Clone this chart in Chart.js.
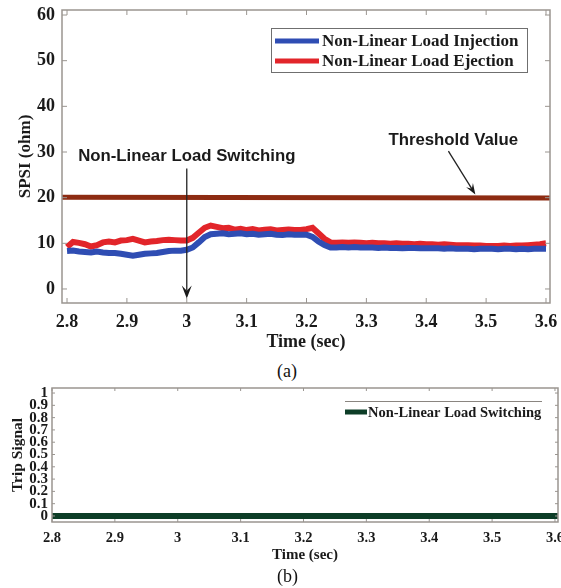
<!DOCTYPE html>
<html>
<head>
<meta charset="utf-8">
<script src="https://cdn.jsdelivr.net/npm/chart.js@4"></script>
<style>
  html, body { margin: 0; padding: 0; background: #fff; }
  body { width: 561px; height: 588px; position: relative; overflow: hidden; }
  #wrapA { position: absolute; left: 0; top: 0; width: 561px; height: 360px; }
  #wrapB { position: absolute; left: 0; top: 380px; width: 561px; height: 190px; }
  .cap { position: absolute; font-family: "Liberation Serif", serif; font-size: 18px; color: #111; }
</style>
</head>
<body>
<div id="wrapA"><canvas id="chartA" width="561" height="360"></canvas></div>
<div class="cap" style="left:277px; top:361px;">(a)</div>
<div id="wrapB"><canvas id="chartB" width="561" height="190"></canvas></div>
<div class="cap" style="left:277px; top:566px;">(b)</div>

<script>
// time axis of panel (a), every 10 ms
const time = [
  2.80, 2.81, 2.82, 2.83, 2.84, 2.85, 2.86, 2.87, 2.88, 2.89,
  2.90, 2.91, 2.92, 2.93, 2.94, 2.95, 2.96, 2.97, 2.98, 2.99,
  3.00, 3.01, 3.02, 3.03, 3.04, 3.05, 3.06, 3.07, 3.08, 3.09,
  3.10, 3.11, 3.12, 3.13, 3.14, 3.15, 3.16, 3.17, 3.18, 3.19,
  3.20, 3.21, 3.22, 3.23, 3.24, 3.25, 3.26, 3.27, 3.28, 3.29,
  3.30, 3.31, 3.32, 3.33, 3.34, 3.35, 3.36, 3.37, 3.38, 3.39,
  3.40, 3.41, 3.42, 3.43, 3.44, 3.45, 3.46, 3.47, 3.48, 3.49,
  3.50, 3.51, 3.52, 3.53, 3.54, 3.55, 3.56, 3.57, 3.58, 3.59,
  3.60
];

// SPSI (ohm) - non-linear load injection
const injection = [
  8.3, 8.4, 8.2, 8.1, 8.0, 8.2, 8.0, 7.9, 7.9, 7.7,
  7.5, 7.3, 7.5, 7.7, 7.8, 7.9, 8.1, 8.3, 8.4, 8.4,
  8.6, 9.1, 10.2, 11.4, 12.0, 12.1, 12.2, 12.0, 12.1, 12.2,
  12.0, 12.1, 11.9, 12.0, 12.1, 11.9, 11.8, 12.0, 11.9, 11.9,
  11.9, 11.4, 10.4, 9.6, 9.1, 9.1, 9.2, 9.1, 9.2, 9.1,
  9.1, 9.1, 9.0, 9.1, 9.0, 9.0, 8.9, 9.0, 9.0, 8.9,
  8.9, 8.9, 8.9, 8.8, 8.9, 8.8, 8.8, 8.8, 8.7, 8.8,
  8.8, 8.8, 8.7, 8.8, 8.8, 8.7, 8.8, 8.7, 8.8, 8.8,
  8.8
];

// SPSI (ohm) - non-linear load ejection
const ejection = [
  9.2, 10.3, 10.1, 9.8, 9.3, 9.6, 10.2, 10.4, 10.2, 10.6,
  10.7, 11.0, 10.6, 10.2, 10.4, 10.5, 10.7, 10.8, 10.7, 10.6,
  10.6, 11.2, 12.3, 13.4, 13.9, 13.6, 13.3, 13.4, 13.0, 13.2,
  12.9, 13.1, 12.8, 13.0, 13.1, 12.8, 12.9, 13.0, 12.9, 12.9,
  13.1, 13.4, 12.2, 11.0, 10.2, 10.1, 10.2, 10.1, 10.2, 10.1,
  10.0, 10.1, 10.0, 10.0, 9.9, 10.0, 9.9, 9.9, 9.8, 9.9,
  9.8, 9.8, 9.7, 9.8, 9.7, 9.6, 9.6, 9.6, 9.5, 9.5,
  9.4, 9.4, 9.4, 9.5, 9.4, 9.5, 9.5, 9.6, 9.7, 9.8,
  10.0
];

const thresholdTime = [2.79, 3.61];
const thresholdValue = [20.1, 19.9];

// panel (b) trip signal
const tripTime = [2.8, 3.61];
const tripSignal = [0, 0];

const xTicks = [2.8, 2.9, 3, 3.1, 3.2, 3.3, 3.4, 3.5, 3.6];
const yTicksA = [0, 10, 20, 30, 40, 50, 60];
const yTicksB = [0, 0.1, 0.2, 0.3, 0.4, 0.5, 0.6, 0.7, 0.8, 0.9, 1];

const SERIF = '"Liberation Serif", "Times New Roman", serif';
const SANS = '"Liberation Sans", Arial, sans-serif';
const TXT = '#1a1a1a';

function pts(xs, ys) {
  return xs.map((x, i) => ({ x: x, y: ys[i] }));
}

function setTicks(list) {
  return scale => { scale.ticks = list.map(v => ({ value: v })); };
}

// fixed axis size, and no extra room for labels that stick out
function fixSize(key, size) {
  return scale => {
    scale[key] = size;
    scale.paddingLeft = 0; scale.paddingRight = 0;
    scale.paddingTop = 0; scale.paddingBottom = 0;
  };
}

// box round the plot with inward tick marks (matlab style)
function framePlugin(len) {
  return {
    id: 'frame',
    afterDatasetsDraw(chart) {
      const { ctx, chartArea: a, scales } = chart;
      ctx.save();
      ctx.strokeStyle = '#9a9590';
      ctx.lineWidth = 1.5;
      ctx.strokeRect(a.left, a.top, a.right - a.left, a.bottom - a.top);
      ctx.lineWidth = 1;
      ctx.beginPath();
      scales.x.ticks.forEach(t => {
        const px = scales.x.getPixelForValue(t.value);
        ctx.moveTo(px, a.bottom); ctx.lineTo(px, a.bottom - len);
        ctx.moveTo(px, a.top); ctx.lineTo(px, a.top + len);
      });
      scales.y.ticks.forEach(t => {
        const py = scales.y.getPixelForValue(t.value);
        ctx.moveTo(a.left, py); ctx.lineTo(a.left + len, py);
        ctx.moveTo(a.right, py); ctx.lineTo(a.right - len, py);
      });
      ctx.stroke();
      ctx.restore();
    }
  };
}

function arrow(ctx, x1, y1, x2, y2, len, wid) {
  const a = Math.atan2(y2 - y1, x2 - x1);
  ctx.beginPath();
  ctx.moveTo(x1, y1);
  ctx.lineTo(x2 - Math.cos(a) * len * 0.6, y2 - Math.sin(a) * len * 0.6);
  ctx.stroke();
  ctx.save();
  ctx.translate(x2, y2);
  ctx.rotate(a);
  ctx.beginPath();
  ctx.moveTo(0, 0);
  ctx.lineTo(-len, -wid);
  ctx.lineTo(-len * 0.6, 0);
  ctx.lineTo(-len, wid);
  ctx.closePath();
  ctx.fill();
  ctx.restore();
}

// legend box inside the plot of (a)
const legendA = {
  id: 'legendA',
  afterDraw(chart) {
    const ctx = chart.ctx;
    const sets = chart.data.datasets.slice(0, 2);
    ctx.save();
    ctx.fillStyle = '#fff';
    ctx.fillRect(271, 28, 256, 44);
    ctx.strokeStyle = '#6f6f6f';
    ctx.lineWidth = 1;
    ctx.strokeRect(271.5, 28.5, 256, 44);
    ctx.font = 'bold 17px ' + SERIF;
    ctx.textBaseline = 'middle';
    sets.forEach((ds, i) => {
      const y = 41 + i * 20;
      ctx.strokeStyle = ds.borderColor;
      ctx.lineWidth = 5;
      ctx.beginPath(); ctx.moveTo(275, y); ctx.lineTo(319, y); ctx.stroke();
      ctx.fillStyle = TXT;
      ctx.fillText(ds.label, 322, y + 1);
    });
    ctx.restore();
  }
};

// text notes and arrows of (a)
const notesA = {
  id: 'notesA',
  afterDraw(chart) {
    const { ctx, scales: { x, y } } = chart;
    ctx.save();
    ctx.fillStyle = TXT;
    ctx.strokeStyle = '#222';
    ctx.lineWidth = 1.3;
    ctx.font = 'bold 16.8px ' + SANS;
    ctx.textAlign = 'center';
    ctx.textBaseline = 'middle';
    ctx.fillText('Non-Linear Load Switching', x.getPixelForValue(3.0), y.getPixelForValue(29));
    ctx.fillText('Threshold Value', x.getPixelForValue(3.445), y.getPixelForValue(32.6));
    arrow(ctx, x.getPixelForValue(3.0), y.getPixelForValue(26.4),
      x.getPixelForValue(3.0), y.getPixelForValue(-2.1), 13, 5);
    arrow(ctx, x.getPixelForValue(3.437), y.getPixelForValue(30.2),
      x.getPixelForValue(3.482), y.getPixelForValue(20.7), 11, 4);
    ctx.restore();
  }
};

// legend of (b): only a top rule, swatch and label
const legendB = {
  id: 'legendB',
  afterDraw(chart) {
    const ctx = chart.ctx;
    const ds = chart.data.datasets[0];
    ctx.save();
    ctx.strokeStyle = '#8a8580';
    ctx.lineWidth = 1;
    ctx.beginPath(); ctx.moveTo(345, 21.5); ctx.lineTo(542, 21.5); ctx.stroke();
    ctx.strokeStyle = ds.borderColor;
    ctx.lineWidth = 5;
    ctx.beginPath(); ctx.moveTo(345, 32); ctx.lineTo(367, 32); ctx.stroke();
    ctx.fillStyle = TXT;
    ctx.font = 'bold 14.5px ' + SERIF;
    ctx.textBaseline = 'middle';
    ctx.fillText(ds.label, 368, 33);
    ctx.restore();
  }
};

new Chart(document.getElementById('chartA'), {
  type: 'line',
  data: {
    datasets: [
      { label: 'Non-Linear Load Injection', data: pts(time, injection), borderColor: '#2f4db3', borderWidth: 6, pointRadius: 0 },
      { label: 'Non-Linear Load Ejection', data: pts(time, ejection), borderColor: '#e2252a', borderWidth: 6, pointRadius: 0 },
      { label: 'Threshold Value', data: pts(thresholdTime, thresholdValue), borderColor: '#8d2b12', borderWidth: 5, pointRadius: 0 }
    ]
  },
  options: {
    responsive: false,
    animation: false,
    layout: { padding: { top: 10, right: 11, left: 0, bottom: 0 } },
    plugins: { legend: { display: false }, tooltip: { enabled: false } },
    scales: {
      x: {
        type: 'linear', min: 2.7916, max: 3.6067,
        afterBuildTicks: setTicks(xTicks),
        afterFit: fixSize('height', 57),
        grid: { display: false, drawTicks: false },
        border: { display: false },
        ticks: { autoSkip: false, maxRotation: 0, padding: 9, color: TXT, callback: v => String(v),
          font: { family: SERIF, size: 18, weight: 'bold' } },
        title: { display: true, text: 'Time (sec)', color: TXT, padding: { top: 0, bottom: 7 },
          font: { family: SERIF, size: 18, weight: 'bold' } }
      },
      y: {
        type: 'linear', min: -3.07, max: 61.1,
        afterBuildTicks: setTicks(yTicksA),
        afterFit: fixSize('width', 62),
        grid: { display: false, drawTicks: false },
        border: { display: false },
        ticks: { autoSkip: false, padding: 7, color: TXT, callback: v => String(v),
          font: { family: SERIF, size: 18, weight: 'bold' } },
        title: { display: true, text: 'SPSI (ohm)', color: TXT, padding: { top: 15, bottom: 0 },
          font: { family: SERIF, size: 17, weight: 'bold' } }
      }
    }
  },
  plugins: [framePlugin(5), legendA, notesA]
});

new Chart(document.getElementById('chartB'), {
  type: 'line',
  data: {
    datasets: [
      { label: 'Non-Linear Load Switching', data: pts(tripTime, tripSignal), borderColor: '#0d3d27', borderWidth: 6, pointRadius: 0 }
    ]
  },
  options: {
    responsive: false,
    animation: false,
    layout: { padding: { top: 8, right: 3, left: 0, bottom: 0 } },
    plugins: { legend: { display: false }, tooltip: { enabled: false } },
    scales: {
      x: {
        type: 'linear', min: 2.8, max: 3.6048,
        afterBuildTicks: setTicks(xTicks),
        afterFit: fixSize('height', 48),
        grid: { display: false, drawTicks: false },
        border: { display: false },
        ticks: { autoSkip: false, maxRotation: 0, padding: 8, color: TXT, callback: v => String(v),
          font: { family: SERIF, size: 14.5, weight: 'bold' } },
        title: { display: true, text: 'Time (sec)', color: TXT, padding: { top: 0, bottom: 6 },
          font: { family: SERIF, size: 15, weight: 'bold' } }
      },
      y: {
        type: 'linear', min: -0.049, max: 1.041,
        afterBuildTicks: setTicks(yTicksB),
        afterFit: fixSize('width', 52),
        grid: { display: false, drawTicks: false },
        border: { display: false },
        ticks: { autoSkip: false, padding: 4, color: TXT, callback: v => String(v),
          font: { family: SERIF, size: 15, weight: 'bold' } },
        title: { display: true, text: 'Trip Signal', color: TXT, padding: { top: 9, bottom: 0 },
          font: { family: SERIF, size: 15.5, weight: 'bold' } }
      }
    }
  },
  plugins: [framePlugin(3), legendB]
});
</script>
</body>
</html>
